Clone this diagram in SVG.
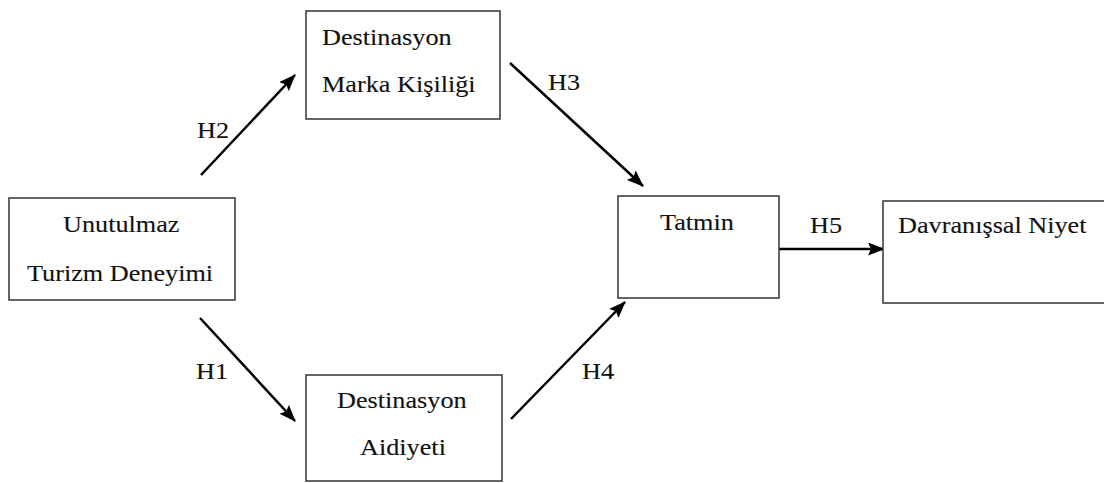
<svg xmlns="http://www.w3.org/2000/svg" width="1104" height="483" viewBox="0 0 1104 483">
  <style>
    .box { fill: #ffffff; stroke: #333333; stroke-width: 1.5; }
    .lbl { font-family: "Liberation Serif", "Times New Roman", serif; font-size: 23px; fill: #111111; stroke: #111111; stroke-width: 0.12; }
    .edge { stroke: #000000; stroke-width: 2.5; fill: none; marker-end: url(#head); }
  </style>
  <defs>
    <marker id="head" viewBox="0 0 17 13" refX="16" refY="6.5" markerWidth="17" markerHeight="13" markerUnits="userSpaceOnUse" orient="auto">
      <path d="M0,0 L17,6.5 L0,13 L3,6.5 Z" fill="#000000"/>
    </marker>
  </defs>
  <rect width="1104" height="483" fill="#ffffff"/>

  <g id="connectors">
    <line class="edge" x1="201" y1="175" x2="295" y2="75"/>
    <line class="edge" x1="510" y1="63" x2="643" y2="186"/>
    <line class="edge" x1="200" y1="318" x2="295" y2="421"/>
    <line class="edge" x1="511" y1="419" x2="625" y2="302"/>
    <line class="edge" x1="779" y1="249" x2="884" y2="249"/>
    <text class="lbl" transform="translate(197 138) scale(1.14 1)">H2</text>
    <text class="lbl" transform="translate(548 90) scale(1.14 1)">H3</text>
    <text class="lbl" transform="translate(196 379) scale(1.14 1)">H1</text>
    <text class="lbl" transform="translate(582 379) scale(1.14 1)">H4</text>
    <text class="lbl" transform="translate(810 233) scale(1.14 1)">H5</text>
  </g>

  <g id="unutulmaz-turizm-deneyimi">
    <rect class="box" x="9" y="198" width="226" height="102"/>
    <text class="lbl" transform="translate(63 232) scale(1.14 1)">Unutulmaz</text>
    <text class="lbl" transform="translate(27 281) scale(1.14 1)">Turizm Deneyimi</text>
  </g>

  <g id="destinasyon-marka-kisiligi">
    <rect class="box" x="306" y="11" width="194" height="108"/>
    <text class="lbl" transform="translate(322 45) scale(1.14 1)">Destinasyon</text>
    <text class="lbl" transform="translate(322 92) scale(1.14 1)">Marka Kişiliği</text>
  </g>

  <g id="destinasyon-aidiyeti">
    <rect class="box" x="306" y="375" width="196" height="106"/>
    <text class="lbl" transform="translate(337 408) scale(1.14 1)">Destinasyon</text>
    <text class="lbl" transform="translate(360 455) scale(1.14 1)">Aidiyeti</text>
  </g>

  <g id="tatmin">
    <rect class="box" x="618" y="196" width="161" height="102"/>
    <text class="lbl" transform="translate(660 230) scale(1.14 1)">Tatmin</text>
  </g>

  <g id="davranissal-niyet">
    <rect class="box" x="883" y="201" width="224" height="102"/>
    <text class="lbl" transform="translate(898 233) scale(1.14 1)">Davranışsal Niyet</text>
  </g>
</svg>
